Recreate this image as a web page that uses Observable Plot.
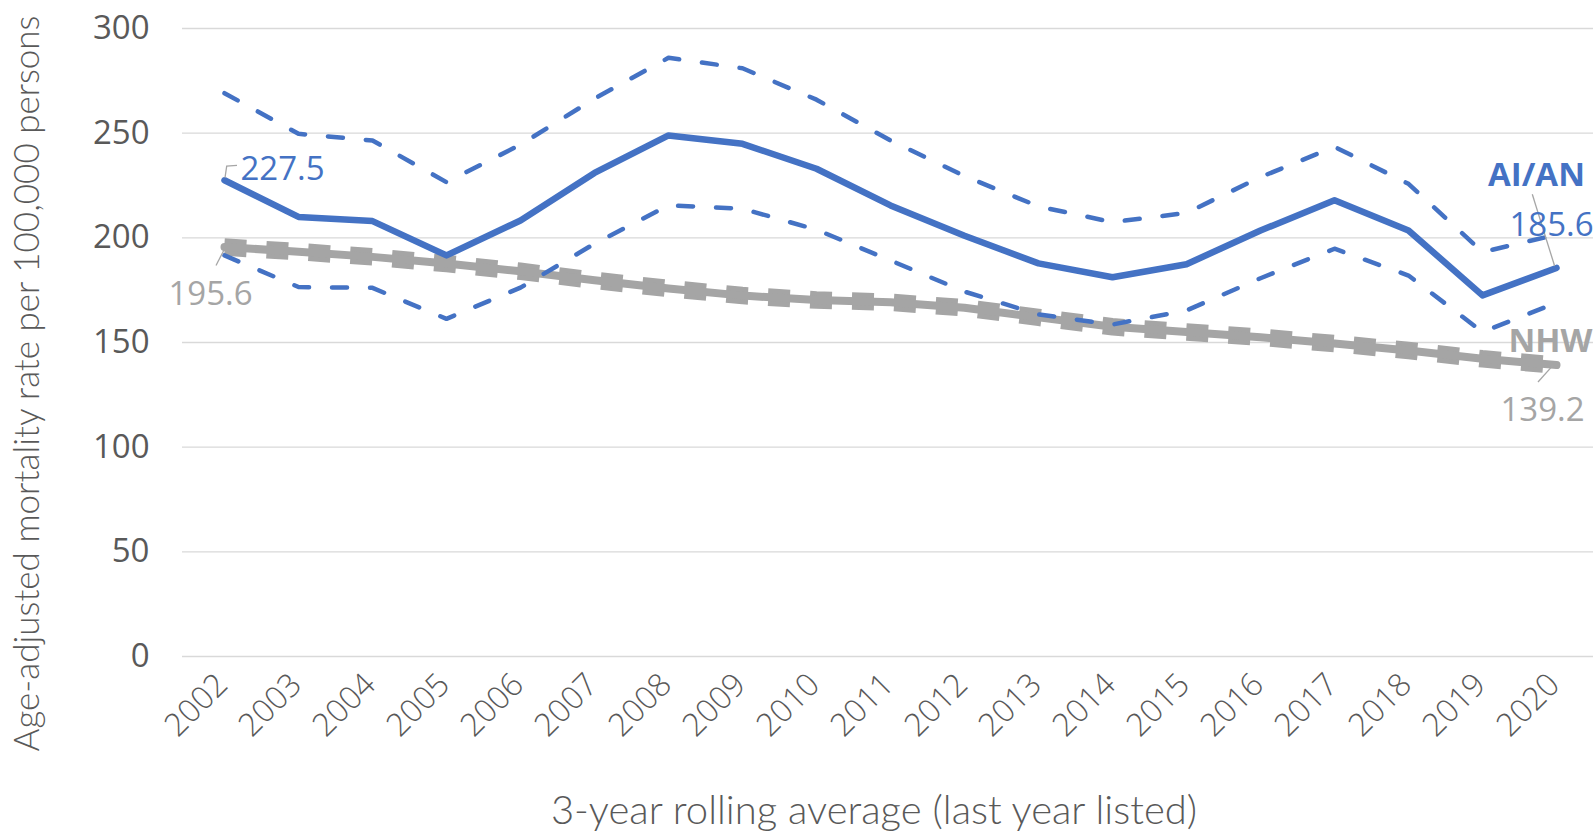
<!DOCTYPE html>
<html>
<head>
<meta charset="utf-8">
<script src="https://cdn.jsdelivr.net/npm/d3@7"></script>
<script src="https://cdn.jsdelivr.net/npm/@observablehq/plot@0.6"></script>
<style>
  html, body { margin: 0; padding: 0; background: #ffffff; }
  #chart svg { display: block; }
</style>
</head>
<body>
<div id="chart"></div>
<script>
// 3-year rolling averages, labelled by the last year of each window
const years = [2002, 2003, 2004, 2005, 2006, 2007, 2008, 2009, 2010, 2011,
               2012, 2013, 2014, 2015, 2016, 2017, 2018, 2019, 2020];

// American Indian / Alaska Native: rate with upper and lower confidence limits
const aianRate  = [227.5, 210.0, 208.0, 191.6, 208.3, 231.0, 248.9, 244.9, 233.0, 215.5,
                   201.0, 187.8, 181.2, 187.4, 203.5, 217.9, 203.5, 172.5, 185.6];
const aianUpper = [269.1, 249.7, 246.5, 226.6, 244.5, 266.5, 286.0, 281.0, 266.0, 246.5,
                   229.5, 215.0, 207.5, 211.9, 229.0, 243.5, 225.8, 193.2, 201.5];
const aianLower = [191.6, 176.5, 176.1, 161.3, 176.2, 197.2, 215.5, 213.9, 203.9, 189.2,
                   174.3, 163.4, 158.6, 165.3, 180.7, 194.8, 182.0, 155.0, 169.0];

// Non-Hispanic White: rate with upper and lower confidence limits
const nhwRate  = [195.6, 193.4, 190.9, 187.7, 184.0, 179.7, 175.8, 172.4, 170.3, 169.2,
                  166.6, 162.0, 157.5, 155.0, 152.5, 149.5, 146.2, 142.2, 139.2];
const nhwUpper = [197.4, 195.2, 192.7, 189.5, 185.8, 181.5, 177.6, 174.2, 172.1, 171.0,
                  168.4, 163.8, 159.3, 156.8, 154.3, 151.3, 148.0, 144.0, 141.0];
const nhwLower = [193.8, 191.6, 189.1, 185.9, 182.2, 177.9, 174.0, 170.6, 168.5, 167.4,
                  164.8, 160.2, 155.7, 153.2, 150.7, 147.7, 144.4, 140.4, 137.4];

const yTicks = [0, 50, 100, 150, 200, 250, 300];
const seriesNames = ["AI/AN", "NHW"];
const xTitle = "3-year rolling average (last year listed)";
const yTitle = "Age-adjusted mortality rate per 100,000 persons";

const blue = "#4472C4";
const gray = "#A5A5A5";
const axisInk = "#595959";
const gridInk = "#D9D9D9";
const leaderInk = "#A6A6A6";
const font = "'Open Sans', 'Noto Sans', sans-serif";
const titleFont = "Lato, 'Open Sans', sans-serif";

const rows = years.map((year, i) => ({
  year,
  aian: aianRate[i], aianUpper: aianUpper[i], aianLower: aianLower[i],
  nhw: nhwRate[i], nhwUpper: nhwUpper[i], nhwLower: nhwLower[i]
}));
const first = rows[0];
const last = rows[rows.length - 1];

// Thin leader lines joining the end-point labels to their points
const leaders = [
  {year: first.year, value: first.aian, path: [[1, -2], [2.7, -13.7], [13, -14.4]]},
  {year: first.year, value: first.nhw,  path: [[0, 3.4], [-8, 19]]},
  {year: last.year,  value: last.aian,  path: [[-1.4, -1.5], [-23.7, -73.2]]},
  {year: last.year,  value: last.nhw,   path: [[-2.4, 0], [-18, 17.4]]}
];
function leaderMark(index, scales) {
  const g = d3.create("svg:g")
    .attr("fill", "none")
    .attr("stroke", leaderInk)
    .attr("stroke-width", 1.3);
  for (const l of leaders) {
    const px = scales.x(l.year), py = scales.y(l.value);
    g.append("path").attr("d", d3.line()(l.path.map(([dx, dy]) => [px + dx, py + dy])));
  }
  return g.node();
}

const fmt = v => v.toFixed(1);

const chart = Plot.plot({
  width: 1593,
  height: 833,
  marginTop: 28,
  marginBottom: 177,
  marginLeft: 182,
  marginRight: 0,
  style: {fontFamily: font, background: "#ffffff", overflow: "visible"},
  x: {type: "point", domain: years, range: [218, 1561], padding: 0, axis: null},
  y: {domain: [0, 300], axis: null},
  marks: [
    // gridlines and value axis
    Plot.ruleY(yTicks, {y: d => d, stroke: gridInk, strokeWidth: 1.4}),
    Plot.text(yTicks, {
      y: d => d, text: d => String(d), frameAnchor: "left", dx: -33,
      textAnchor: "end", fontSize: 33, fill: axisInk
    }),
    // category axis
    Plot.text(years, {
      x: d => d, text: d => String(d), frameAnchor: "bottom", rotate: -45,
      textAnchor: "end", lineAnchor: "bottom", dx: 5, dy: 30,
      fontSize: 32, fontWeight: 300, fill: axisInk
    }),
    // axis titles
    Plot.text([xTitle], {
      text: d => d, frameAnchor: "bottom", textAnchor: "middle", dx: -14, dy: 167,
      lineAnchor: "bottom", fontSize: 40, fontWeight: 300, fill: axisInk, fontFamily: titleFont
    }),
    Plot.text([yTitle], {
      text: d => d, frameAnchor: "left", textAnchor: "middle", rotate: -90, dx: -144, dy: 41,
      lineAnchor: "bottom", fontSize: 35, fontWeight: 300, fill: axisInk, fontFamily: titleFont
    }),

    // NHW: confidence limits as heavy dashes around the rate line
    Plot.line(rows, {x: "year", y: "nhwUpper", stroke: gray, strokeWidth: 10,
      strokeDasharray: "22,20", strokeLinecap: "butt"}),
    Plot.line(rows, {x: "year", y: "nhwLower", stroke: gray, strokeWidth: 10,
      strokeDasharray: "22,20", strokeLinecap: "butt"}),
    Plot.line(rows, {x: "year", y: "nhw", stroke: gray, strokeWidth: 8}),

    // AI/AN: dashed confidence limits and solid rate line
    Plot.line(rows, {x: "year", y: "aianUpper", stroke: blue, strokeWidth: 4.5,
      strokeDasharray: "15,23", strokeLinecap: "round"}),
    Plot.line(rows, {x: "year", y: "aianLower", stroke: blue, strokeWidth: 4.5,
      strokeDasharray: "15,23", strokeLinecap: "round"}),
    Plot.line(rows, {x: "year", y: "aian", stroke: blue, strokeWidth: 6.5}),

    leaderMark,

    // end-point labels
    Plot.text([first], {x: "year", y: "aian", text: d => fmt(d.aian),
      dx: 16, dy: 0, textAnchor: "start", lineAnchor: "bottom", fontSize: 33, fill: blue}),
    Plot.text([first], {x: "year", y: "nhw", text: d => fmt(d.nhw),
      dx: -14, dy: 57.5, textAnchor: "middle", lineAnchor: "bottom", fontSize: 33, fill: gray}),
    Plot.text([last], {x: "year", y: "aian", text: () => seriesNames[0],
      dx: -20, dy: -81.5, textAnchor: "middle", lineAnchor: "bottom", fontSize: 33,
      fontWeight: "bold", fill: blue}),
    Plot.text([last], {x: "year", y: "aian", text: d => fmt(d.aian),
      dx: -5, dy: -31.5, textAnchor: "middle", lineAnchor: "bottom", fontSize: 33, fill: blue}),
    Plot.text([last], {x: "year", y: "nhw", text: () => seriesNames[1],
      dx: -6, dy: -13.6, textAnchor: "middle", lineAnchor: "bottom", fontSize: 33,
      fontWeight: "bold", fill: gray}),
    Plot.text([last], {x: "year", y: "nhw", text: d => fmt(d.nhw),
      dx: -14, dy: 56, textAnchor: "middle", lineAnchor: "bottom", fontSize: 33, fill: gray})
  ]
});

document.getElementById("chart").appendChild(chart);
</script>
</body>
</html>
